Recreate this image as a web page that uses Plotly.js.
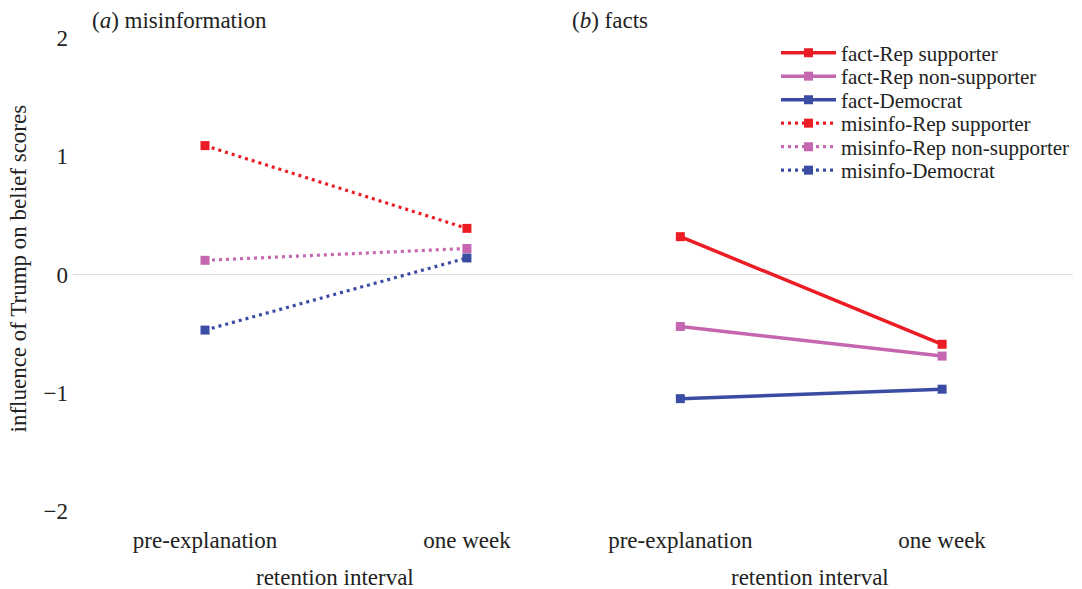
<!DOCTYPE html>
<html>
<head>
<meta charset="utf-8">
<script src="https://cdn.plot.ly/plotly-3.0.1.min.js"></script>
<style>html,body{margin:0;padding:0;background:#fff;}#chart{width:1082px;height:589px;}</style>
</head>
<body>
<div id="chart"></div>
<script>
const intervals = ["pre-explanation", "one week"];

const factRepSupporter = [0.32, -0.59];
const factRepNonSupporter = [-0.44, -0.69];
const factDemocrat = [-1.05, -0.97];
const misinfoRepSupporter = [1.09, 0.39];
const misinfoRepNonSupporter = [0.12, 0.22];
const misinfoDemocrat = [-0.47, 0.14];

const RED = "#ec1c24", PINK = "#c566b0", BLUE = "#3a4da3";
const FONT = "'Liberation Serif', serif";

const seriesNames = ["fact-Rep supporter", "fact-Rep non-supporter", "fact-Democrat",
  "misinfo-Rep supporter", "misinfo-Rep non-supporter", "misinfo-Democrat"];

function tr(i, y, color, dash, xa) {
  return {
    type: "scatter", mode: "lines+markers", name: seriesNames[i],
    legend: i === 0 ? "legend" : "legend" + (i + 1),
    x: intervals, y: y, xaxis: xa, yaxis: "y",
    line: {color: color, width: dash === "solid" ? 3.5 : 3.2, dash: dash},
    marker: {symbol: "square", size: 9, color: color}
  };
}

const DOT = "3px,4px";
const data = [
  tr(0, factRepSupporter, RED, "solid", "x2"),
  tr(1, factRepNonSupporter, PINK, "solid", "x2"),
  tr(2, factDemocrat, BLUE, "solid", "x2"),
  tr(3, misinfoRepSupporter, RED, DOT, "x"),
  tr(4, misinfoRepNonSupporter, PINK, DOT, "x"),
  tr(5, misinfoDemocrat, BLUE, DOT, "x")
];

const tickFont = {family: FONT, size: 23, color: "#222"};
const txtFont = {family: FONT, size: 23, color: "#222"};

// plot area spans 1009 px (73 -> 1082); panels occupy 73 -> 1073
const PW = 1009;
const layout = {
  width: 1082, height: 589,
  margin: {l: 73, r: 0, t: 38, b: 78},
  paper_bgcolor: "#fff", plot_bgcolor: "#fff",
  font: {family: FONT, color: "#222"},
  showlegend: true,
  xaxis: {
    domain: [0, 500 / PW], type: "category", range: [-0.504, 1.405],
    showgrid: false, zeroline: false, showline: false, ticks: "",
    tickfont: tickFont, ticklabelstandoff: 13, anchor: "y"
  },
  xaxis2: {
    domain: [500 / PW, 1000 / PW], type: "category", range: [-0.41, 1.5],
    showgrid: false, zeroline: false, showline: false, ticks: "",
    tickfont: tickFont, ticklabelstandoff: 13, anchor: "y"
  },
  yaxis: {
    range: [-2, 2], tickvals: [-2, -1, 0, 1, 2],
    showgrid: false, zeroline: true, zerolinecolor: "#dcdcdc", zerolinewidth: 1.5,
    showline: false, ticks: "", tickfont: tickFont, ticklabelstandoff: 4
  },
  annotations: [
    {text: "(<i>a</i>) misinformation", xref: "paper", yref: "paper", x: 17 / PW, y: 1.0, yshift: 3,
     xanchor: "left", yanchor: "bottom", showarrow: false, font: txtFont},
    {text: "(<i>b</i>) facts", xref: "paper", yref: "paper", x: 497 / PW, y: 1.0, yshift: 3,
     xanchor: "left", yanchor: "bottom", showarrow: false, font: txtFont},
    {text: "retention interval", xref: "paper", yref: "paper", x: 262 / PW, y: 0, yshift: -66,
     xanchor: "center", yanchor: "middle", showarrow: false, font: txtFont},
    {text: "retention interval", xref: "paper", yref: "paper", x: 737 / PW, y: 0, yshift: -66,
     xanchor: "center", yanchor: "middle", showarrow: false, font: txtFont},
    {text: "influence of Trump on belief scores", xref: "paper", yref: "paper", x: 0, xshift: -55, y: 0.5, yshift: 6,
     xanchor: "center", yanchor: "middle", textangle: -90, showarrow: false, font: txtFont}
  ]
};

// one legend per entry so the rows sit as tightly as in the original
const legendRowsPx = [53, 76.5, 100, 123.5, 147, 170.5];
legendRowsPx.forEach(function (py, i) {
  const key = i === 0 ? "legend" : "legend" + (i + 1);
  layout[key] = {
    x: 703 / PW, xanchor: "left",
    y: (511 - py) / 473, yanchor: "middle",
    font: {family: FONT, size: 21, color: "#222"},
    bgcolor: "rgba(0,0,0,0)", itemwidth: 55, borderwidth: 0
  };
});

Plotly.newPlot("chart", data, layout, {displayModeBar: false, staticPlot: true});
</script>
</body>
</html>
